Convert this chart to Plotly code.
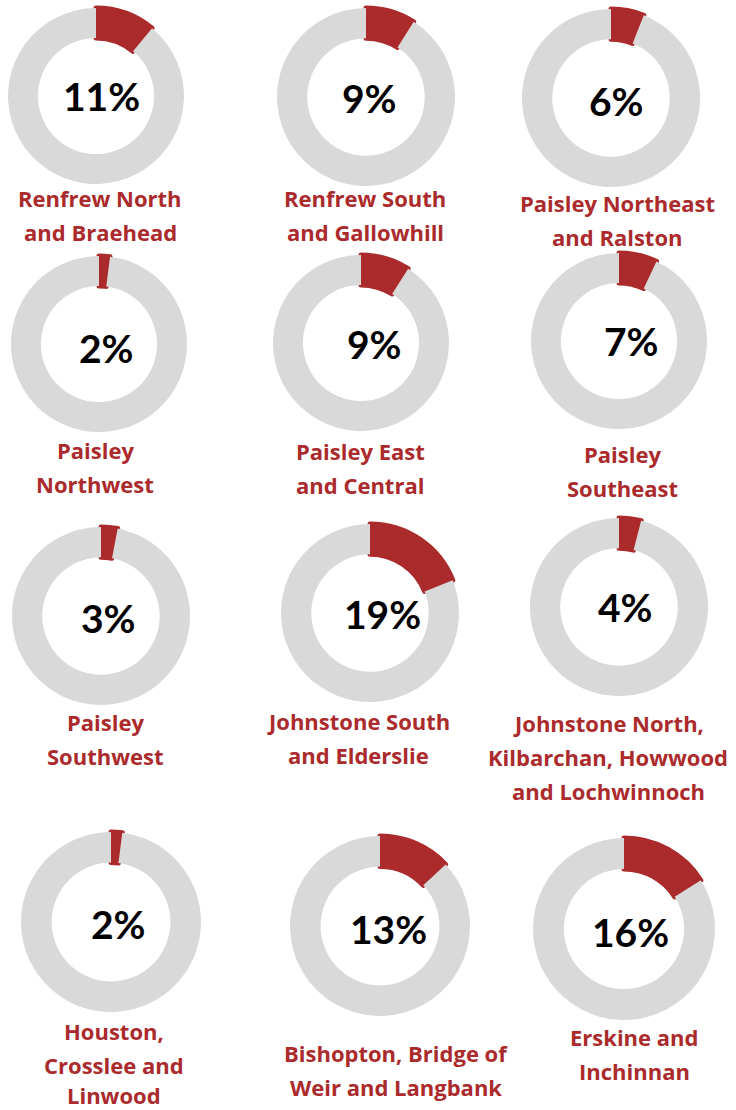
import plotly.graph_objects as go

# Share of each area, in percent
areas = [
    ["Renfrew North", "and Braehead"],
    ["Renfrew South", "and Gallowhill"],
    ["Paisley Northeast", "and Ralston"],
    ["Paisley", "Northwest"],
    ["Paisley East", "and Central"],
    ["Paisley", "Southeast"],
    ["Paisley", "Southwest"],
    ["Johnstone South", "and Elderslie"],
    ["Johnstone North,", "Kilbarchan, Howwood", "and Lochwinnoch"],
    ["Houston,", "Crosslee and", "Linwood"],
    ["Bishopton, Bridge of", "Weir and Langbank"],
    ["Erskine and", "Inchinnan"],
]
shares = [11, 9, 6, 2, 9, 7, 3, 19, 4, 2, 13, 16]

W, H = 736, 1110
RED = "#AB2A2C"
GREY = "#D9D9D9"

# Layout of the small multiples (pixel positions on the page)
ring_cx = [96, 366, 611, 99, 361, 619, 101, 370, 619, 111, 380, 624]
ring_cy = [96, 97, 98, 344, 343, 341, 616, 613, 607, 922, 926, 929]
ring_r = [88, 89, 89, 88, 88, 88, 89, 89, 89, 90, 90, 91]
pct_x = [101, 369, 616, 106, 374, 631, 108, 383, 625, 118, 388, 630]
pct_y = [96, 98, 101, 348, 344, 341, 618, 614, 607, 924, 929, 932]
lab_x = [100, 365, 617, 95, 360, 622, 105, 358, 608, 114, 396, 634]
lab_y = [198, 198, 203, 450, 451, 454, 722, 721, 723, 1031, 1053, 1037]
LINE_GAP = 34

fig = go.Figure()
annotations = []
for i, (name, v) in enumerate(zip(areas, shares)):
    cx, cy, r = ring_cx[i], ring_cy[i], ring_r[i]
    fig.add_trace(go.Pie(
        values=[v, 100 - v],
        labels=["share", "rest"],
        hole=0.66,
        sort=False,
        direction="clockwise",
        rotation=0,
        textinfo="none",
        hoverinfo="skip",
        showlegend=False,
        marker=dict(colors=[RED, GREY],
                    line=dict(color=[RED, GREY], width=[5, 0])),
        domain=dict(x=[(cx - r) / W, (cx + r) / W],
                    y=[1 - (cy + r) / H, 1 - (cy - r) / H]),
    ))
    annotations.append(dict(
        x=pct_x[i] / W, y=1 - pct_y[i] / H, xref="paper", yref="paper",
        text=f"{v}%", showarrow=False, xanchor="center", yanchor="middle",
        font=dict(family="Lato", size=39, color="#000000", weight="bold"),
    ))
    for k, line in enumerate(name):
        ly = min(lab_y[i] + k * LINE_GAP, H - 15)
        annotations.append(dict(
            x=lab_x[i] / W, y=1 - ly / H,
            xref="paper", yref="paper", text=line, showarrow=False,
            xanchor="center", yanchor="middle",
            font=dict(family="Open Sans", size=22, color=RED, weight="bold"),
        ))

fig.update_layout(
    width=W, height=H,
    margin=dict(l=0, r=0, t=0, b=0),
    paper_bgcolor="white", plot_bgcolor="white",
    annotations=annotations,
)
fig.write_html("out.html")
